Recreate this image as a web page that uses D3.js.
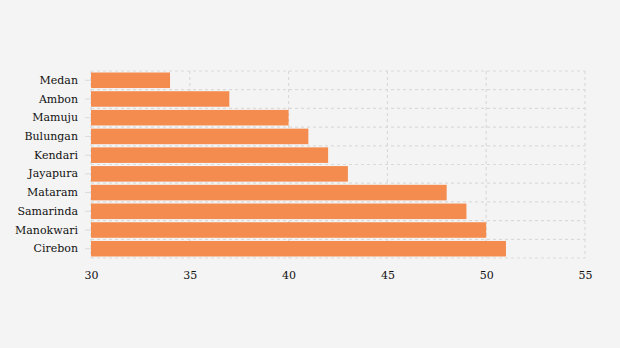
<!DOCTYPE html>
<html><head><meta charset="utf-8">
<script src="https://cdn.jsdelivr.net/npm/d3@7"></script>
<style>body{margin:0;background:#f4f4f4;}svg{display:block;}</style>
</head><body>
<script>
const categories = ["Medan","Ambon","Mamuju","Bulungan","Kendari","Jayapura","Mataram","Samarinda","Manokwari","Cirebon"];
const values = [34,37,40,41,42,43,48,49,50,51];
const xTicks = [30,35,40,45,50,55];

const W=620,H=348;
const m={left:91,right:35,top:71,bottom:90};
const svg=d3.select("body").append("svg").attr("width",W).attr("height",H).style("background","#f4f4f4");
const x=d3.scaleLinear().domain([30,55]).range([m.left,W-m.right]);
const y=d3.scaleBand().domain(categories).range([m.top,H-m.bottom]).paddingInner(0.17).paddingOuter(0.08);
const grid=svg.append("g").attr("stroke","#dadada").attr("stroke-dasharray","3,3").attr("stroke-width",1.2);
xTicks.forEach(t=>grid.append("line").attr("x1",x(t)).attr("x2",x(t)).attr("y1",m.top).attr("y2",H-m.bottom));
const step=y.step();
const y0=m.top;
for(let i=0;i<=categories.length;i++){
  const yy = i===0? m.top : (i===categories.length? H-m.bottom : y(categories[i]) - step*0.17/2);
  grid.append("line").attr("x1",m.left).attr("x2",W-m.right).attr("y1",yy).attr("y2",yy);
}
svg.append("g").selectAll("rect").data(categories).join("rect")
  .attr("x",x(30)).attr("y",d=>y(d)).attr("height",y.bandwidth())
  .attr("width",(d,i)=>x(values[i])-x(30)).attr("fill","#f48c4f");
const ya=svg.append("g").attr("transform",`translate(${m.left},0)`).call(d3.axisLeft(y).tickSize(6).tickPadding(7));
ya.select(".domain").remove();
ya.selectAll("line").attr("stroke","#dadada");
ya.selectAll("text").attr("font-family","DejaVu Serif").attr("font-size",11).attr("fill","#111");
const xa=svg.append("g").attr("transform",`translate(0,${H-m.bottom})`).call(d3.axisBottom(x).tickValues(xTicks).tickSize(0).tickPadding(13));
xa.select(".domain").remove();
xa.selectAll("text").attr("font-family","DejaVu Serif").attr("font-size",11).attr("fill","#111");
</script>
</body></html>
